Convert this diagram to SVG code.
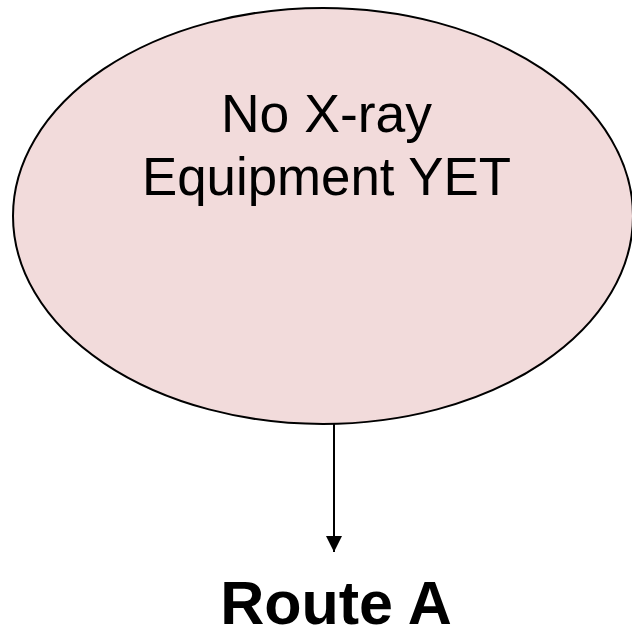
<svg xmlns="http://www.w3.org/2000/svg" width="632" height="631" viewBox="0 0 632 631">
<style>
.node{fill:#f2dbdb;stroke:#000;stroke-width:2}
.lbl{font-family:"Liberation Sans",Arial,sans-serif;fill:#000;text-anchor:middle}
.edge{stroke:#000;stroke-width:2;fill:none}
</style>
<defs>
<marker id="arr" markerWidth="8" markerHeight="8" refX="8" refY="4" orient="auto" markerUnits="strokeWidth">
<path d="M0,0 L8,4 L0,8 Z" fill="#000"/>
</marker>
</defs>
<rect width="632" height="631" fill="#fff"/>
<g id="node-xray">
<ellipse class="node" cx="323" cy="216" rx="310" ry="208"/>
<text class="lbl" x="326.5" y="132" font-size="53.5">No X-ray</text>
<text class="lbl" x="326.5" y="195" font-size="53.5" textLength="369" lengthAdjust="spacingAndGlyphs">Equipment YET</text>
</g>
<g id="connectors">
<line class="edge" x1="334" y1="424" x2="334" y2="552" marker-end="url(#arr)"/>
</g>
<g id="node-route-a">
<text class="lbl" x="336" y="624" font-size="61" font-weight="bold">Route A</text>
</g>
</svg>
